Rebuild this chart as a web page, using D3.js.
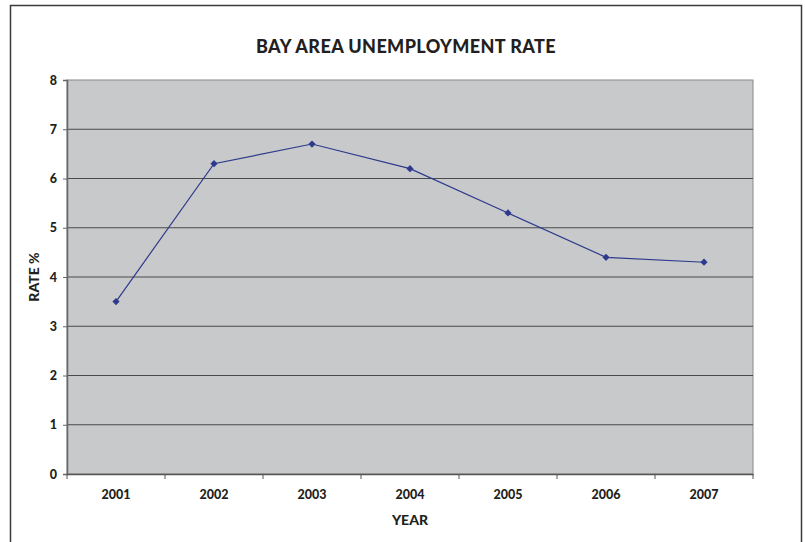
<!DOCTYPE html>
<html><head><meta charset="utf-8">
<script src="https://cdn.jsdelivr.net/npm/d3@7"></script>
<style>body{margin:0;background:#fff}svg{display:block}text{font-family:Lato,"Open Sans",sans-serif;font-weight:900;fill:#231f20}</style>
</head><body>
<svg id="c" width="805" height="542"></svg>
<script>
const years = ["2001","2002","2003","2004","2005","2006","2007"];
const rates = [3.5, 6.3, 6.7, 6.2, 5.3, 4.4, 4.3];
const yTicks = [0,1,2,3,4,5,6,7,8];
const title = "BAY AREA UNEMPLOYMENT RATE";
const xTitle = "YEAR";
const yTitle = "RATE %";

const svg = d3.select("#c");
const L=67, R=753, T=80, B=474;
svg.append("rect").attr("x",10.5).attr("y",5.5).attr("width",791).attr("height",545)
  .attr("fill","#fff").attr("stroke","#3a3a3a").attr("stroke-width",1.5);

const x = d3.scaleBand().domain(years).range([L,R]);
const y = d3.scaleLinear().domain([0,8]).range([B,T]);

svg.append("rect").attr("x",L).attr("y",T).attr("width",R-L).attr("height",B-T)
  .attr("fill","#c8c9cb").attr("stroke","#888").attr("stroke-width",1);

svg.append("g").selectAll("line").data(yTicks.slice(1,-1)).join("line")
  .attr("x1",L).attr("x2",R).attr("y1",d=>y(d)).attr("y2",d=>y(d))
  .attr("stroke","#4a4a4a").attr("stroke-width",1);

const yAxis = svg.append("g").attr("transform",`translate(${L},0)`)
  .call(d3.axisLeft(y).tickValues(yTicks).tickSize(4).tickPadding(6).tickFormat(d3.format("d")));
yAxis.select(".domain").attr("stroke","#666").attr("stroke-width",1.5);
yAxis.selectAll(".tick line").attr("stroke","#666");
yAxis.selectAll("text").attr("font-size",12.5).attr("font-family","Lato,sans-serif").attr("font-weight","900").attr("fill","#231f20");

const xAxis = svg.append("g").attr("transform",`translate(0,${B})`)
  .call(d3.axisBottom(x).tickSize(0).tickPadding(16));
xAxis.select(".domain").attr("stroke","#555").attr("stroke-width",1.5);
xAxis.selectAll("text").attr("font-size",12.5).attr("font-family","Lato,sans-serif").attr("font-weight","900").attr("fill","#231f20");
svg.append("g").selectAll("line").data(years.concat(["end"])).join("line")
  .attr("x1",(d,i)=>L+i*x.bandwidth()).attr("x2",(d,i)=>L+i*x.bandwidth())
  .attr("y1",B).attr("y2",B+5).attr("stroke","#555");

const line = d3.line().x((d,i)=>x(years[i])+x.bandwidth()/2).y(d=>y(d));
svg.append("path").datum(rates).attr("d",line).attr("fill","none")
  .attr("stroke","#2e3a8c").attr("stroke-width",1.2);
svg.append("g").selectAll("path").data(rates).join("path")
  .attr("d",d3.symbol(d3.symbolSquare,26))
  .attr("transform",(d,i)=>`translate(${x(years[i])+x.bandwidth()/2},${y(d)}) rotate(45)`)
  .attr("fill","#2e3a8c");

svg.append("text").attr("x",406).attr("y",53).attr("text-anchor","middle").attr("font-size",18).attr("letter-spacing",0.4).text(title);
svg.append("text").attr("x",410).attr("y",525).attr("text-anchor","middle").attr("font-size",14).text(xTitle);
svg.append("text").attr("transform","translate(39,277) rotate(-90)").attr("text-anchor","middle").attr("font-size",14).text(yTitle);
</script>
</body></html>
